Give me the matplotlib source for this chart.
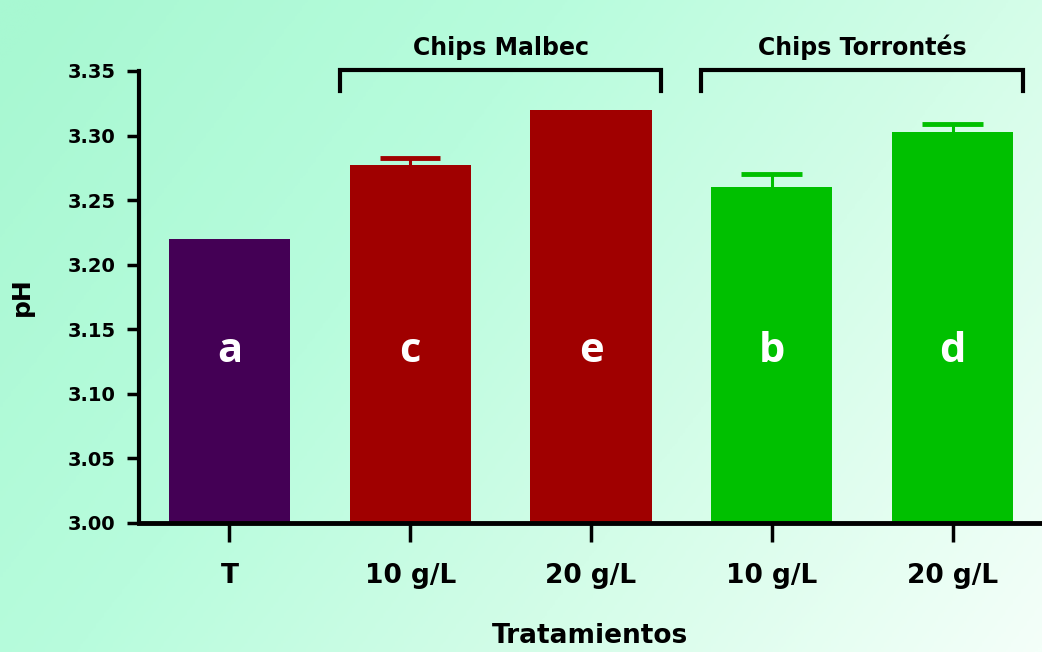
import numpy as np
import matplotlib
matplotlib.use("Agg")
import matplotlib.pyplot as plt
from matplotlib.colors import LinearSegmentedColormap

# ---- data ----
categories = ["T", "10 g/L", "20 g/L", "10 g/L", "20 g/L"]
ph_values = [3.220, 3.277, 3.320, 3.260, 3.303]
ph_errors = [0.0, 0.0055, 0.0, 0.010, 0.006]
group_letters = ["a", "c", "e", "b", "d"]
bar_colors = ["#440055", "#A00000", "#A00000", "#00C000", "#00C000"]
groups = ["Chips Malbec", "Chips Torrontés"]
group_members = [(1, 2), (3, 4)]
y_ticks = [3.00, 3.05, 3.10, 3.15, 3.20, 3.25, 3.30, 3.35]

plt.rcParams["font.family"] = ["DejaVu Sans"]
plt.rcParams["font.weight"] = "bold"

fig = plt.figure(figsize=(10.42, 6.52), dpi=100)

# soft mint-to-white diagonal background
bg = fig.add_axes([0, 0, 1, 1], zorder=-10)
gx, gy = np.meshgrid(np.linspace(0, 1, 400), np.linspace(0, 1, 250))
t = np.clip(0.7 * gx + 0.33 * gy - 0.03, 0, 1)
cmap = LinearSegmentedColormap.from_list(
    "mint", [(0.0, "#A8F8D2"), (0.35, "#B8FCDD"),
             (0.65, "#D3FDE8"), (1.0, "#F4FFF9")])
bg.imshow(t, cmap=cmap, aspect="auto", origin="upper",
          extent=[0, 1, 0, 1], vmin=0, vmax=1)
bg.set_axis_off()

ax = fig.add_axes([0.1334, 0.1979, 0.8675, 0.6933])
ax.set_facecolor("none")

x = np.arange(len(categories))
bar_width = 0.67
ax.bar(x, [v - 3.0 for v in ph_values], bottom=3.0, width=bar_width,
       color=bar_colors, zorder=2)

# one-sided (upper) error bars
cap_half = bar_width / 4
for xi, v, e, c in zip(x, ph_values, ph_errors, bar_colors):
    if e > 0:
        ax.vlines(xi, v, v + e, colors=c, linewidth=2.2, zorder=3)
        ax.hlines(v + e, xi - cap_half, xi + cap_half, colors=c,
                  linewidth=3.5, zorder=3)

for xi, letter in zip(x, group_letters):
    ax.text(xi, 3.1247, letter, color="white", fontsize=30,
            family=["Open Sans", "DejaVu Sans"], fontweight="bold",
            ha="center", va="baseline", zorder=4)

ax.set_xlim(-0.5, 4.5)
ax.set_ylim(3.0, 3.35)
ax.set_yticks(y_ticks)
ax.set_yticklabels([f"{v:.2f}" for v in y_ticks], fontsize=14,
                   fontweight="bold")
ax.set_xticks(x)
ax.set_xticklabels(categories, fontsize=19, fontweight="bold")

for side in ["top", "right"]:
    ax.spines[side].set_visible(False)
ax.spines["left"].set_linewidth(3)
ax.spines["bottom"].set_linewidth(3.5)
ax.tick_params(axis="y", direction="out", length=9, width=2.5, pad=8)
ax.tick_params(axis="x", direction="out", length=14, width=2.5, pad=15)

ax.set_ylabel("pH", fontsize=18, fontweight="bold", labelpad=24)
fig.text(0.566, 0.004, "Tratamientos", fontsize=19, fontweight="bold",
         ha="center", va="bottom")

# group brackets above the bars
for name, (i0, i1) in zip(groups, group_members):
    xl, xr = i0 - 0.39, i1 + 0.39
    ax.plot([xl, xl, xr, xr], [3.3345, 3.3508, 3.3508, 3.3345],
            color="black", lw=3, clip_on=False, solid_joinstyle="miter")
    ax.text((xl + xr) / 2, 3.3625, name, fontsize=17, fontweight="bold",
            ha="center", va="baseline")

fig.savefig("out.png", dpi=100)
